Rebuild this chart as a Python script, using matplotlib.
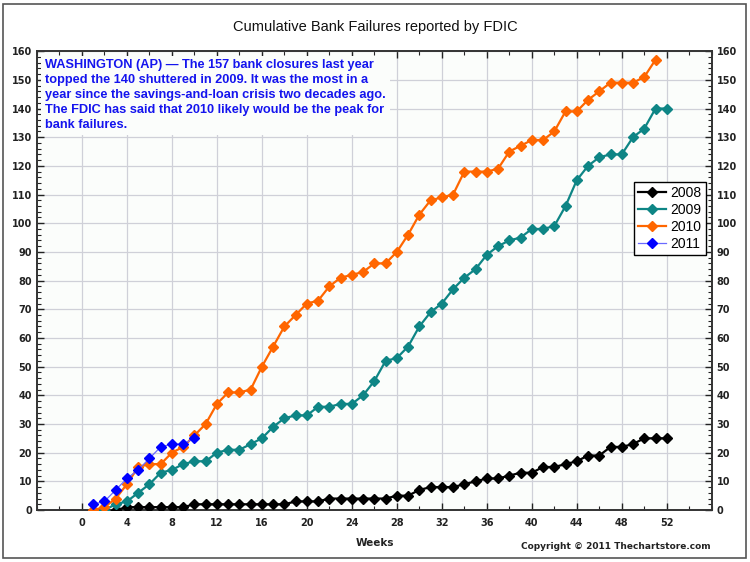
import matplotlib.pyplot as plt
from matplotlib.patches import Rectangle
from matplotlib.ticker import MultipleLocator
import numpy as np

# cumulative bank failures by week
weeks_2008 = list(range(3, 53))
fails_2008 = [0, 1, 1, 1, 1, 1, 1, 2, 2, 2, 2, 2, 2, 2, 2, 2, 3, 3, 3, 4,
              4, 4, 4, 4, 4, 5, 5, 7, 8, 8, 8, 9, 10, 11, 11, 12, 13, 13, 15, 15,
              16, 17, 19, 19, 22, 22, 23, 25, 25, 25]

weeks_2009 = list(range(2, 53))
fails_2009 = [0, 2, 3, 6, 9, 13, 14, 16, 17, 17, 20, 21, 21, 23, 25, 29, 32, 33, 33, 36,
              36, 37, 37, 40, 45, 52, 53, 57, 64, 69, 72, 77, 81, 84, 89, 92, 94, 95, 98, 98,
              99, 106, 115, 120, 123, 124, 124, 130, 133, 140, 140]

weeks_2010 = list(range(1, 52))
fails_2010 = [0, 1, 4, 9, 15, 16, 16, 20, 22, 26, 30, 37, 41, 41, 42, 50, 57, 64, 68, 72,
              73, 78, 81, 82, 83, 86, 86, 90, 96, 103, 108, 109, 110, 118, 118, 118, 119, 125, 127, 129,
              129, 132, 139, 139, 143, 146, 149, 149, 149, 151, 157]

weeks_2011 = list(range(1, 11))
fails_2011 = [2, 3, 7, 11, 14, 18, 22, 23, 23, 25]

note = ("WASHINGTON (AP) \u2014 The 157 bank closures last year\n"
        "topped the 140 shuttered in 2009. It was the most in a\n"
        "year since the savings-and-loan crisis two decades ago.\n"
        "The FDIC has said that 2010 likely would be the peak for\n"
        "bank failures.")

fig = plt.figure(figsize=(7.5, 5.62), dpi=100)
ax = fig.add_axes([0.0493, 0.0925, 0.8997, 0.8165])
ax.set_facecolor('#fbfdfb')

ax.plot(weeks_2008, fails_2008, color='black', lw=1.6, marker='D', ms=5.2, label='2008', zorder=4)
ax.plot(weeks_2009, fails_2009, color='#0e8585', lw=1.6, marker='D', ms=5.2, label='2009', zorder=4)
ax.plot(weeks_2010, fails_2010, color='#ff6600', lw=1.6, marker='D', ms=5.2, label='2010', zorder=4)
ax.plot(weeks_2011, fails_2011, color='#6a6aff', lw=0.9, marker='D', ms=5.2,
        mfc='#0000ff', mec='#0000ff', label='2011', zorder=5)

ax.set_xlim(-4, 56)
ax.set_ylim(0, 160)
ax.set_xticks(np.arange(0, 53, 4))
ax.xaxis.set_minor_locator(MultipleLocator(2))
ax.yaxis.set_major_locator(MultipleLocator(10))
ax.yaxis.set_minor_locator(MultipleLocator(2))
ax.tick_params(which='both', direction='in', top=True, right=True, labelright=True,
               labelsize=7, colors='#222222')
ax.tick_params(which='major', length=5, width=1)
ax.tick_params(which='minor', length=3, width=0.8)
for lab in ax.get_xticklabels() + ax.get_yticklabels():
    lab.set_fontweight('bold')
ax.tick_params(axis='x', pad=6)

ax.grid(True, which='major', color='#cfd0d8', lw=0.9, zorder=0)
for s in ax.spines.values():
    s.set_color('#333333')
    s.set_linewidth(1.4)

ax.text(0.012, 0.982, note, transform=ax.transAxes, va='top', ha='left',
        color='#1414ee', fontsize=9.2, fontweight='bold', family='Liberation Sans',
        linespacing=1.33, zorder=3,
        bbox=dict(boxstyle='square,pad=0.3', fc='#fbfdfb', ec='none'))

leg = ax.legend(loc='upper right', bbox_to_anchor=(0.991, 0.715), fancybox=False,
                framealpha=1, edgecolor='black', handlelength=2.0, borderaxespad=0,
                prop={'family': 'Liberation Sans', 'size': 10},
                borderpad=0.3, labelspacing=0.22, handletextpad=0.3)
leg.get_frame().set_linewidth(1)

fig.text(0.5, 0.952, 'Cumulative Bank Failures reported by FDIC', ha='center', va='center',
         fontsize=10.5, family='Liberation Sans', color='#111111')
fig.text(0.5, 0.034, 'Weeks', ha='center', va='center', fontsize=7.5, fontweight='bold',
         color='#222222')
fig.text(0.947, 0.028, 'Copyright \u00a9 2011 Thechartstore.com', ha='right', va='center',
         fontsize=6.5, fontweight='bold', color='#222222')

fig.patches.append(Rectangle((0.004, 0.007), 0.991, 0.985, transform=fig.transFigure,
                             fill=False, ec='#555555', lw=1.2))

fig.savefig('out.png', dpi=100)
